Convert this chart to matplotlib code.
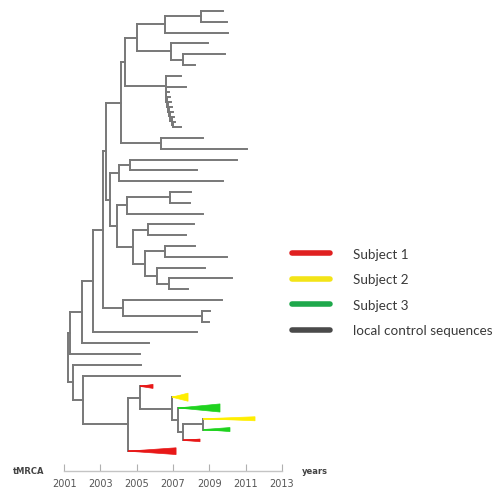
import matplotlib
matplotlib.use('Agg')
import matplotlib.pyplot as plt
import matplotlib.transforms as mtransforms
from matplotlib.lines import Line2D
from matplotlib.patches import Polygon

# dated tree, newick style: the value after ':' is the node date (year)
# C = local control sequence, k = short tips of the comb, S1/S2/S3 = subjects
top_clade = ("(((C:2009.75,C:2009.98):2008.54,C:2010.03):2006.56,"
             "(C:2008.93,(C:2009.87,C:2008.21):2007.55):2006.89):2005.02")
comb = ("(k:2006.78,(k:2006.84,(k:2006.90,(k:2006.96,(k:2007.02,(k:2007.08,"
        "(k:2007.13,k:2007.45):2006.98):2006.92):2006.86):2006.80):2006.74):2006.69):2006.64")
comb_clade = "(C:2007.44,C:2007.72," + comb + "):2006.61"
pair_clade = "(C:2008.65,C:2011.08):2006.34"
mid_a = "((C:2010.53,C:2008.32):2004.63,C:2009.75):2004.02"
mid_b = ("(((C:2007.99,C:2007.94):2006.83,C:2008.65):2004.47,"
         "((C:2008.16,C:2007.72):2005.62,((C:2008.21,C:2009.98):2006.56,"
         "(C:2008.76,(C:2010.25,C:2007.83):2006.78):2006.12):2005.46):2004.80):2003.91")
fork_clade = "(C:2009.70,(C:2009.04,C:2008.99):2008.60):2004.25"
subjects = ("((S1:2005.90,(S2:2007.83,(S3:2009.59,((S2:2011.52,S3:2010.14):2008.65,"
            "S1:2008.49):2007.55):2007.28):2006.94):2005.18,S1:2007.17):2004.52")

e_clade = "(" + top_clade + "," + comb_clade + "):2004.36"
g_clade = "(" + e_clade + "," + pair_clade + "):2004.13"
n_clade = "(" + mid_a + "," + mid_b + "):2003.53"
h_clade = "(" + g_clade + "," + n_clade + "):2003.31"
upper = "(" + h_clade + "," + fork_clade + "):2003.14"
upper = "(((" + upper + ",C:2008.32):2002.59,C:2005.68):2002.01,C:2005.18):2001.33"
lower = "(C:2005.24,(C:2007.39," + subjects + "):2002.04):2001.49"
tree = "(" + upper + "," + lower + "):2001.21"

# relative size of the collapsed subject clades, in tree order
clade_size = [3, 6, 6, 3, 3, 2, 5]

years = [2001, 2003, 2005, 2007, 2009, 2011, 2013]
legend_labels = ["Subject 1", "Subject 2", "Subject 3", "local control sequences"]

tree_col = '#787878'
subj_col = {'S1': '#e81818', 'S2': '#ffee00', 'S3': '#1fd31f'}
leg_col = ['#e02020', '#f3e417', '#1ea84b', '#4a4a4a']


def parse(s):
    pos = 0

    def node():
        nonlocal pos
        kids = []
        if s[pos] == '(':
            pos += 1
            while True:
                kids.append(node())
                if s[pos] == ',':
                    pos += 1
                    continue
                pos += 1
                break
        start = pos
        while s[pos] not in ',):':
            pos += 1
        label = s[start:pos]
        pos += 1
        start = pos
        while pos < len(s) and s[pos] not in ',)':
            pos += 1
        return {'label': label, 'date': float(s[start:pos]), 'kids': kids}

    return node()


root = parse(tree)
row = [-1.0]


def place(n):
    if not n['kids']:
        row[0] += 0.47 if n['label'] == 'k' else 1.0
        n['y'] = row[0]
        return
    for k in n['kids']:
        place(k)
    n['y'] = (n['kids'][0]['y'] + n['kids'][-1]['y']) / 2


place(root)

fig = plt.figure(figsize=(4.95, 4.89), dpi=100)
ax = fig.add_axes([0, 0, 1, 1])
lw = 1.4
wedge_i = [0]


def draw(n):
    if not n['kids']:
        return
    ax.plot([n['date'], n['date']], [n['kids'][0]['y'], n['kids'][-1]['y']],
            color=tree_col, lw=lw, solid_capstyle='projecting', zorder=2)
    for k in n['kids']:
        if k['label'] in subj_col:
            c = subj_col[k['label']]
            h = clade_size[wedge_i[0]] * 0.125
            wedge_i[0] += 1
            ax.add_patch(Polygon([(n['date'], k['y']), (k['date'], k['y'] - h / 2),
                                  (k['date'], k['y'] + h / 2)], closed=True,
                                 facecolor=c, edgecolor=c, lw=0.5, zorder=3))
            ax.plot([n['date'], k['date']], [k['y'], k['y']], color=c, lw=1.3,
                    solid_capstyle='butt', zorder=3)
        else:
            ax.plot([n['date'], k['date']], [k['y'], k['y']], color=tree_col, lw=lw,
                    solid_capstyle='projecting', zorder=2)
        draw(k)


draw(root)

px_per_year = 18.15
x0 = 2007 - 173 / px_per_year
ax.set_xlim(x0, x0 + 495 / px_per_year)
ax.set_ylim(44.17, -1.11)

axis_row = row[0] + 1.83
for s in ['top', 'right', 'left']:
    ax.spines[s].set_visible(False)
ax.spines['bottom'].set_position(('data', axis_row))
ax.spines['bottom'].set_bounds(years[0], years[-1])
ax.spines['bottom'].set_color('#c4c4c4')
ax.spines['bottom'].set_linewidth(1.0)
ax.set_xticks(years)
ax.set_xticklabels([str(y) for y in years])
ax.tick_params(axis='x', direction='in', length=5, width=0.8, color='#b0b0b0',
               labelsize=7, labelcolor='#555555', pad=5)
ax.set_yticks([])
ax.patch.set_visible(False)

trans = mtransforms.blended_transform_factory(ax.transAxes, ax.transData)
ax.text(0.026, axis_row, "tMRCA", transform=trans, fontsize=6, fontweight='bold',
        color='#444444', va='center', ha='left')
ax.text(0.61, axis_row, "years", transform=trans, fontsize=6, fontweight='bold',
        color='#444444', va='center', ha='left')

handles = [Line2D([], [], color=c, lw=4, solid_capstyle='round') for c in leg_col]
leg = ax.legend(handles, legend_labels, loc='upper left', bbox_to_anchor=(0.59, 0.491),
                frameon=False, borderpad=0, borderaxespad=0,
                handlelength=2.8, handletextpad=1.7, labelspacing=1.0,
                prop={'family': 'Lato', 'size': 9.7})
for t in leg.get_texts():
    t.set_color('#3a3a3a')

fig.savefig('out.png', dpi=100, facecolor='white')
